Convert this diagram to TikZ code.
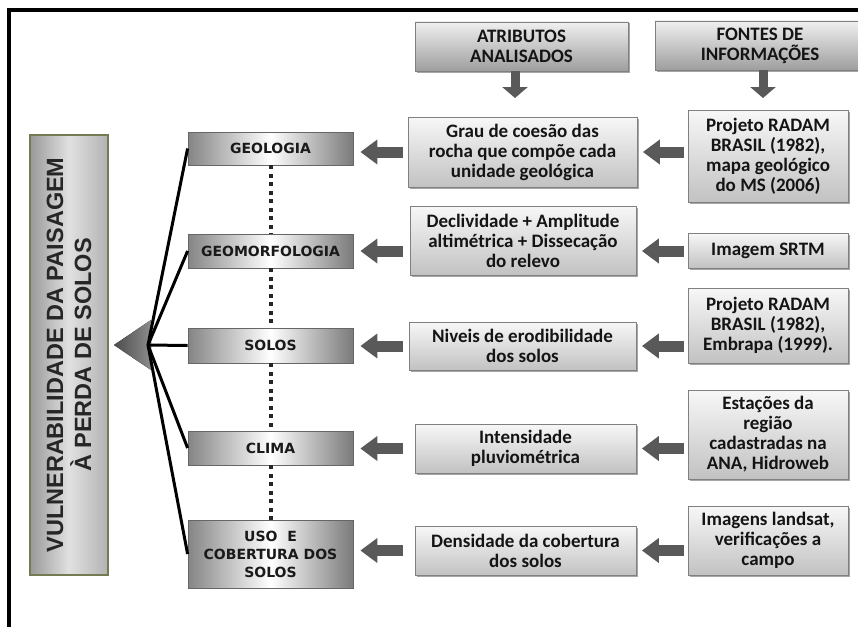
\documentclass[tikz,border=0pt]{standalone}
\usepackage{fontspec}
\setmainfont{Carlito}
\newfontfamily\catfont{DejaVu Sans}
\newfontfamily\ttlfont{Liberation Sans}
\usetikzlibrary{arrows.meta,shadows}
\definecolor{arrgray}{HTML}{595959}
\definecolor{olivebd}{HTML}{767A52}
\begin{document}
\begin{tikzpicture}[x=1pt,y=-1pt,
  attbox/.style={draw=black!50, line width=0.8pt, top color=black!3, bottom color=black!24,
    drop shadow={shadow xshift=1.5pt,shadow yshift=-1.5pt,opacity=0.35,fill=black},
    align=center, inner sep=0pt, text=black!92, font=\bfseries\fontsize{19}{20}\selectfont},
  hdrbox/.style={attbox, top color=black!6, bottom color=black!38},
  catbox/.style={draw=black!60, line width=0.8pt, left color=black!48, right color=black!52,
    middle color=white, minimum width=165pt, align=center, inner sep=0pt, text=black!90,
    font=\catfont\bfseries\fontsize{14}{18}\selectfont},
  blockarrow/.style={draw=arrgray, line width=11pt, -{Triangle[width=24pt,length=17pt]}},
  downarrow/.style={draw=arrgray, line width=9pt, -{Triangle[width=25pt,length=11pt]}},
  spoke/.style={line width=3pt, black},
  dots/.style={line width=4pt, black!85, dash pattern=on 4pt off 4.5pt},
  frameline/.style={line width=3.5pt, black}
]
\useasboundingbox (0,0) rectangle (858,626);
\draw[frameline] (9,640) -- (9,10) -- (870,10);

% main box
\node[draw=olivebd, line width=2pt, rotate=90, minimum width=440pt, minimum height=78pt,
  left color=black!40, right color=black!30, middle color=black!12, text=black!85,
  align=center, font=\ttlfont\bfseries\fontsize{23.5}{28}\selectfont, inner sep=0pt]
  (vul) at (69,355) {VULNERABILIDADE DA PAISAGEM\\À PERDA DE SOLOS};

% triangle and hub
\fill[left color=black!70, right color=black!45] (114,345) -- (151,320) -- (151,370) -- cycle;
\coordinate (hub) at (148,345);

% category boxes
\node[catbox, minimum height=33pt] (geo) at (270.5,148.5) {GEOLOGIA};
\node[catbox, minimum height=34pt] (geom) at (270.5,251) {GEOMORFOLOGIA};
\node[catbox, minimum height=35pt] (solos) at (270.5,345.5) {SOLOS};
\node[catbox, minimum height=34pt] (clima) at (270.5,448) {CLIMA};
\node[catbox, minimum height=68pt] (uso) at (270.5,554) {USO\ \ E\\COBERTURA DOS\\SOLOS};

\draw[dots] (geo.south) -- (geom.north);
\draw[dots] (geom.south) -- (solos.north);
\draw[dots] (solos.south) -- (clima.north);
\draw[dots] (clima.south) -- (uso.north);

\draw[spoke] (hub) -- (geo.west);
\draw[spoke] (hub) -- (geom.west);
\draw[spoke] (hub) -- (solos.west);
\draw[spoke] (hub) -- (clima.west);
\draw[spoke] (hub) -- (uso.west);

% headers
\node[hdrbox, minimum width=213pt, minimum height=49pt] (atr) at (521.5,46.5) {ATRIBUTOS\\ANALISADOS};
\node[hdrbox, minimum width=210pt, minimum height=49pt] (fon) at (760,45.5) {FONTES DE\\INFORMAÇÕES};
\coordinate (atrdn) at (515,98);
\coordinate (fondn) at (763,98);
\draw[downarrow] (atr.south -| atrdn) -- (atrdn);
\draw[downarrow] (fon.south -| fondn) -- (fondn);

% attributes
\node[attbox, minimum width=229pt, minimum height=70pt] (grau) at (522.5,152)
  {Grau de coesão das\\rocha que compõe cada\\unidade geológica};
\node[attbox, minimum width=226pt, minimum height=69pt] (decl) at (523,240.5)
  {Declividade + Amplitude\\altimétrica + Dissecação\\do relevo};
\node[attbox, minimum width=227pt, minimum height=48pt] (niv) at (522.5,346)
  {Niveis de erodibilidade\\dos solos};
\node[attbox, minimum width=221pt, minimum height=49pt] (int) at (525.5,448.5)
  {Intensidade\\pluviométrica};
\node[attbox, minimum width=221pt, minimum height=49pt] (dens) at (525.5,550.5)
  {Densidade da cobertura\\dos solos};

% sources
\node[attbox, minimum width=160pt, minimum height=92pt] (radam1) at (768,156)
  {Projeto RADAM\\BRASIL (1982),\\mapa geológico\\do MS (2006)};
\node[attbox, minimum width=160pt, minimum height=35pt] (srtm) at (768,250.5)
  {Imagem SRTM};
\node[attbox, minimum width=160pt, minimum height=75pt] (radam2) at (768,325.5)
  {Projeto RADAM\\BRASIL (1982),\\Embrapa (1999).};
\node[attbox, minimum width=160pt, minimum height=89pt] (est) at (768,434.5)
  {Estações da\\região\\cadastradas na\\ANA, Hidroweb};
\node[attbox, minimum width=160pt, minimum height=69pt] (land) at (768,540.5)
  {Imagens landsat,\\verificações a\\campo};

% arrows attributes -> categories
\draw[blockarrow, shorten <=5pt, shorten >=7pt] (grau.west) -- (grau.west -| geo.east);
\draw[blockarrow, shorten <=7pt, shorten >=7pt] (decl.west |- geom.east) -- (geom.east);
\draw[blockarrow, shorten <=6pt, shorten >=7pt] (niv.west) -- (niv.west -| solos.east);
\draw[blockarrow, shorten <=12pt, shorten >=7pt] (int.west) -- (int.west -| clima.east);
\draw[blockarrow, shorten <=12pt, shorten >=7pt] (dens.west) -- (dens.west -| uso.east);

% arrows sources -> attributes
\draw[blockarrow, shorten <=4pt, shorten >=5.5pt] (radam1.west |- grau.east) -- (grau.east);
\draw[blockarrow, shorten <=4pt, shorten >=5.5pt] (srtm.west |- geom.east) -- (decl.east |- geom.east);
\draw[blockarrow, shorten <=4pt, shorten >=5.5pt] (radam2.west |- niv.east) -- (niv.east);
\draw[blockarrow, shorten <=4pt, shorten >=5.5pt] (est.west |- int.east) -- (int.east);
\draw[blockarrow, shorten <=4pt, shorten >=5.5pt] (land.west |- dens.east) -- (dens.east);
\end{tikzpicture}
\end{document}
